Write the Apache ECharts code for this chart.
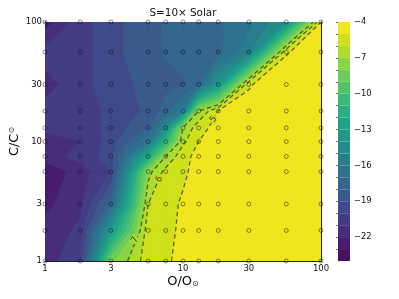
<!DOCTYPE html>
<html><head><meta charset="utf-8">
<style>html,body{margin:0;padding:0;background:#fff}#c{width:399px;height:299px}</style>
<script src="https://cdn.jsdelivr.net/npm/echarts@6/dist/echarts.min.js"></script>
</head><body><div id="c"></div>
<script>
const gridO = [1,1.8,3,5.6,7.5,10,13,18,30,56,100];
const gridC = [1,1.8,3,5.6,7.5,10,13,18,30,56,100];
const zRows = [
 [-21.4,-20.3,-8.3,-5.4,-5.1,-4.8,-4.5,-4.4,-4.3,-4.2,-4.2],
 [-21.6,-20.8,-13.2,-5.33,-5.2,-4.85,-4.5,-4.4,-4.3,-4.2,-4.2],
 [-22.3,-21.2,-17.5,-6,-5.4,-4.85,-4.5,-4.4,-4.3,-4.2,-4.2],
 [-22.8,-21.5,-20,-7.4,-5.65,-5.2,-4.6,-4.4,-4.3,-4.2,-4.2],
 [-21.5,-20.6,-19.5,-12,-7,-5.3,-4.7,-4.5,-4.3,-4.2,-4.2],
 [-21.4,-21,-19.6,-16,-11,-6.24,-5,-4.6,-4.4,-4.3,-4.2],
 [-20.8,-20.6,-19.7,-18,-14.5,-7,-5.35,-4.65,-4.5,-4.3,-4.2],
 [-20.7,-20.7,-19.7,-18.8,-17.5,-15.5,-7,-5,-4.6,-4.4,-4.3],
 [-21.3,-20.5,-19.3,-18.8,-18.3,-18.1,-17.3,-13.5,-5.1,-4.2,-4.2],
 [-20.6,-20.5,-19.3,-18.4,-17.9,-17.7,-17.6,-17.3,-15.5,-5.1,-4.2],
 [-22.5,-20.5,-19.3,-18.4,-17.9,-17.5,-17.5,-17.2,-16.2,-14,-5]
];
const bandLevels = [-24,-23,-22,-21,-20,-19,-18,-17,-16,-15,-14,-13,-12,-11,-10,-9,-8,-7,-6,-5,-4];
const bandColors = ['#471164','#481d6f','#472d7b','#443c84','#3f4a8a','#3a5a8c','#34668e','#2e738e','#297e8e','#248b8d','#20978b','#20a386','#29af80','#39ba76','#51c469','#6ccd5a','#8ad547','#acdc30','#cfe11c','#f1e51d'];
const lineLevels = [-7,-6,-5];
const lineLabels = [
  {o:4.5,c:1.5,t:'7',r:62,bg:'#acdc30'},
  {o:6.73,c:4.82,t:'6',r:55,bg:'#cfe11c'},
  {o:16.6,c:15.3,t:'5',r:55,bg:'#cfe11c'}
];
const xMajor = [1,3,10,30,100];
const xMinor = [2,4,5,6,7,8,9,20,40,50,60,70,80,90];
const barMajor = [-22,-19,-16,-13,-10,-7,-4];
const barMinor = [-23,-21,-20,-18,-17,-15,-14,-12,-11,-9,-8,-6,-5];

const lg = Math.log10;
function clipPoly(p, lv){
  const out=[];
  for(let i=0;i<p.length;i++){
    const a=p[i], b=p[(i+1)%p.length];
    const ai = a[2]>=lv, bi = b[2]>=lv;
    if(ai) out.push(a);
    if(ai!==bi){
      const t=(lv-a[2])/(b[2]-a[2]);
      out.push([a[0]+t*(b[0]-a[0]),a[1]+t*(b[1]-a[1]),lv]);
    }
  }
  return out;
}
function cellCorners(i,j){
  return [[lg(gridO[i]),lg(gridC[j]),zRows[j][i]],
          [lg(gridO[i+1]),lg(gridC[j]),zRows[j][i+1]],
          [lg(gridO[i+1]),lg(gridC[j+1]),zRows[j+1][i+1]],
          [lg(gridO[i]),lg(gridC[j+1]),zRows[j+1][i]]];
}
function contourChains(lv){
  const segs=[];
  const pt=(a,b)=>{const t=(lv-a[2])/(b[2]-a[2]);return [a[0]+t*(b[0]-a[0]),a[1]+t*(b[1]-a[1])];};
  for(let j=0;j<gridC.length-1;j++)for(let i=0;i<gridO.length-1;i++){
    const c=cellCorners(i,j);
    const keys=['h'+i+'_'+j,'v'+(i+1)+'_'+j,'h'+i+'_'+(j+1),'v'+i+'_'+j];
    const cross=[];
    for(let k=0;k<4;k++){
      const a=c[k],b=c[(k+1)%4];
      if((a[2]<lv)!==(b[2]<lv)) cross.push({key:keys[k],p:pt(a,b)});
    }
    if(cross.length===2) segs.push(cross);
    else if(cross.length===4){segs.push([cross[0],cross[3]]);segs.push([cross[1],cross[2]]);}
  }
  const chains=[];
  const used=segs.map(()=>false);
  for(let s=0;s<segs.length;s++){
    if(used[s])continue;
    used[s]=true;
    const chain=[segs[s][0],segs[s][1]];
    let grown=true;
    while(grown){
      grown=false;
      for(let q=0;q<segs.length;q++){
        if(used[q])continue;
        const A=segs[q][0],B=segs[q][1],tail=chain[chain.length-1],head=chain[0];
        if(A.key===tail.key){chain.push(B);}
        else if(B.key===tail.key){chain.push(A);}
        else if(A.key===head.key){chain.unshift(B);}
        else if(B.key===head.key){chain.unshift(A);}
        else continue;
        used[q]=true;grown=true;
      }
    }
    chains.push(chain.map(e=>[Math.pow(10,e.p[0]),Math.pow(10,e.p[1])]));
  }
  return chains;
}
const allChains=[];
lineLevels.forEach(l=>contourChains(l).forEach(c=>allChains.push(c)));

const dotData=[];
gridC.forEach(c=>gridO.forEach(o=>dotData.push([o,c])));

const tickCol='#222';
function logAx(pos,vals,len,labels,margin){
  return {type:'log',logBase:10,min:1,max:100,position:pos,gridIndex:0,
    axisLine:{show:true,lineStyle:{color:'#222',width:1}},
    axisTick:{show:true,inside:true,length:len,customValues:vals,lineStyle:{color:tickCol,width:0.8}},
    axisLabel:labels?{show:true,customValues:xMajor,fontFamily:'DejaVu Sans',fontSize:8.5,color:'#111',margin:margin,hideOverlap:false,showMinLabel:true,showMaxLabel:true,formatter:v=>String(Math.round(v))}:{show:false},
    splitLine:{show:false},minorTick:{show:false},minorSplitLine:{show:false}};
}
const xAxes=[logAx('bottom',xMajor,3,true,3),logAx('bottom',xMinor,1.5,false),logAx('top',xMajor,3,false),logAx('top',xMinor,1.5,false)];
Object.assign(xAxes[0],{name:'{a|O/O}{b|\u2299}',nameLocation:'middle',nameGap:14,nameMoveOverlap:false,
  nameTextStyle:{rich:{a:{fontFamily:'DejaVu Sans',fontSize:13,color:'#000'},b:{fontFamily:'DejaVu Sans',fontSize:8,color:'#222',padding:[5,0,0,0]}}}});
const yAxes=[logAx('left',xMajor,3,true,3),logAx('left',xMinor,1.5,false),logAx('right',xMajor,3,false),logAx('right',xMinor,1.5,false)];
Object.assign(yAxes[0],{name:'{a|C/C}{b|\u2299}',nameLocation:'middle',nameGap:24,nameRotate:90,nameMoveOverlap:false,
  nameTextStyle:{rich:{a:{fontFamily:'DejaVu Sans',fontSize:13,color:'#000'},b:{fontFamily:'DejaVu Sans',fontSize:8,color:'#222',padding:[0,0,5,0]}}}});
xAxes.push({type:'value',gridIndex:1,min:0,max:1,show:false});
yAxes.push({type:'value',gridIndex:1,min:-24,max:-4,position:'right',
  axisLine:{show:true,lineStyle:{color:'#333',width:0.8}},
  axisTick:{show:true,inside:true,length:2,customValues:barMajor.concat(barMinor),lineStyle:{color:'#333',width:0.7}},
  axisLabel:{show:true,customValues:barMajor,fontFamily:'DejaVu Sans',fontSize:8.4,color:'#111',margin:4,formatter:v=>String(v).replace('-','\u2212')},
  splitLine:{show:false}});

const option={
  animation:false,
  backgroundColor:'#fff',
  title:{text:'S=10\u00d7 Solar',left:178,top:3,textAlign:'center',textStyle:{fontFamily:'DejaVu Sans',fontSize:10.4,fontWeight:'normal',color:'#111'}},
  grid:[{left:45,top:22,width:276,height:239,show:false,outerBoundsMode:'none',containLabel:false},{left:338,top:22,width:12,height:239,show:false,outerBoundsMode:'none',containLabel:false}],
  xAxis:xAxes,yAxis:yAxes,
  series:[
    {type:'custom',xAxisIndex:0,yAxisIndex:0,clip:true,silent:true,z:1,data:bandColors.map(()=>[1,1]),encode:{x:0,y:1},
     renderItem(params,api){
       const b=params.dataIndex, col=bandColors[b], children=[];
       for(let j=0;j<gridC.length-1;j++)for(let i=0;i<gridO.length-1;i++){
         const p=clipPoly(cellCorners(i,j),bandLevels[b]);
         if(p.length>2){
           const pts=p.map(v=>api.coord([Math.pow(10,v[0]),Math.pow(10,v[1])]));
           children.push({type:'polygon',shape:{points:pts},style:{fill:col,stroke:col,lineWidth:0.6}});
         }
       }
       return {type:'group',children};
     }},
    {type:'custom',xAxisIndex:0,yAxisIndex:0,clip:true,silent:true,z:2,data:allChains.map(c=>c[0]),encode:{x:0,y:1},
     renderItem(params,api){
       const pts=allChains[params.dataIndex].map(v=>api.coord(v));
       return {type:'polyline',shape:{points:pts},style:{fill:null,stroke:'rgba(45,50,25,0.72)',lineWidth:1.3,lineDash:[4.5,3]}};
     }},
    {type:'custom',xAxisIndex:0,yAxisIndex:0,clip:false,silent:true,z:3,data:lineLabels.map(l=>[l.o,l.c]),encode:{x:0,y:1},
     renderItem(params,api){
       const l=lineLabels[params.dataIndex];
       const p=api.coord([l.o,l.c]);
       return {type:'text',x:p[0],y:p[1],rotation:l.r*Math.PI/180,
         style:{text:l.t,fontFamily:'DejaVu Sans',fontSize:9,fill:'#3c4020',align:'center',verticalAlign:'middle',backgroundColor:l.bg,padding:[0,1]}};
     }},
    {type:'scatter',xAxisIndex:0,yAxisIndex:0,clip:true,silent:true,z:4,data:dotData,symbol:'circle',symbolSize:4,
     itemStyle:{color:'rgba(0,0,0,0)',borderColor:'rgba(15,15,15,0.6)',borderWidth:1}},
    {type:'custom',xAxisIndex:4,yAxisIndex:4,silent:true,z:1,data:bandLevels.slice(0,-1).map((v,i)=>[0.5,v,i]),encode:{y:1},
     renderItem(params,api){
       const i=params.dataIndex;
       const a=api.coord([0,bandLevels[i]]),b=api.coord([1,bandLevels[i+1]]);
       return {type:'rect',shape:{x:a[0],y:b[1],width:b[0]-a[0],height:a[1]-b[1]},style:{fill:bandColors[i]}};
     }}
  ]
};
const chart=echarts.init(document.getElementById('c'),null,{renderer:'canvas'});
chart.setOption(option);
</script></body></html>
